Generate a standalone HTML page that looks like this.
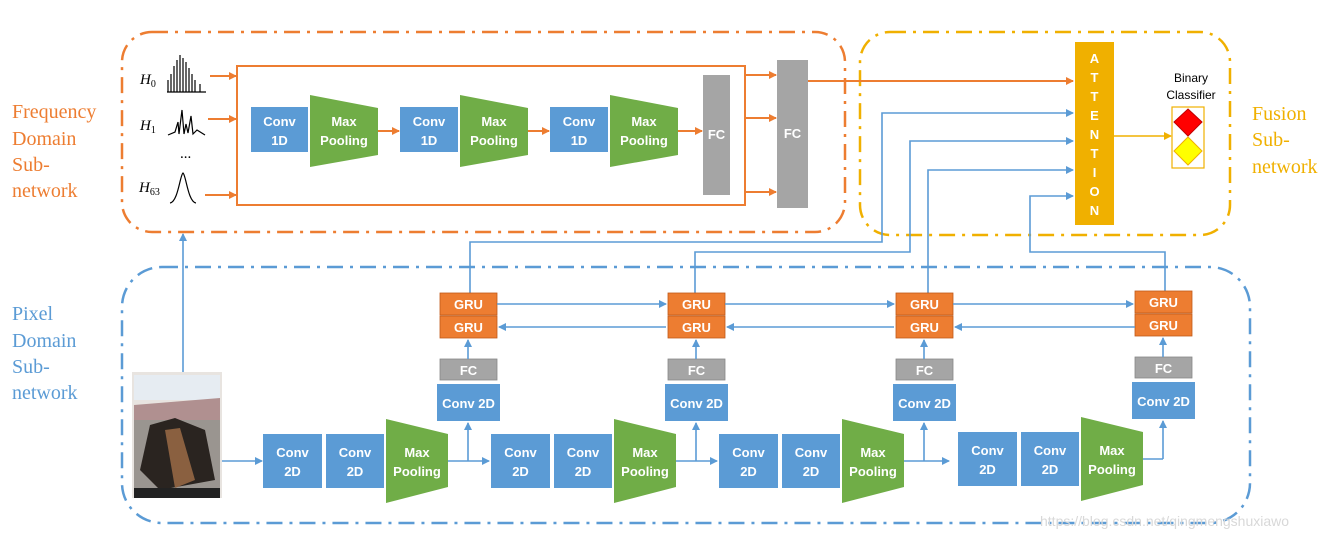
<!DOCTYPE html>
<html><head><meta charset="utf-8"><style>
html,body{margin:0;padding:0;background:#fff;}
svg{display:block;}
.w{font-family:"Liberation Sans",sans-serif;font-weight:bold;fill:#fff;font-size:13px;text-anchor:middle;}
.lbl{font-family:"Liberation Serif",serif;font-size:20px;}
</style></head><body>
<svg width="1335" height="539" viewBox="0 0 1335 539" xmlns="http://www.w3.org/2000/svg">
<defs>
<marker id="ab" markerWidth="8" markerHeight="8" refX="7" refY="4" orient="auto" markerUnits="userSpaceOnUse"><path d="M0,0 L8,4 L0,8 z" fill="#5b9bd5"/></marker>
<marker id="ao" markerWidth="8" markerHeight="8" refX="7" refY="4" orient="auto" markerUnits="userSpaceOnUse"><path d="M0,0 L8,4 L0,8 z" fill="#ed7d31"/></marker>
<marker id="ay" markerWidth="8" markerHeight="8" refX="7" refY="4" orient="auto" markerUnits="userSpaceOnUse"><path d="M0,0 L8,4 L0,8 z" fill="#f0b000"/></marker>
</defs>

<rect x="122" y="32" width="723" height="200" rx="30" fill="none" stroke="#ed7d31" stroke-width="2.5" stroke-dasharray="16,7,3,7"/>
<rect x="860" y="32" width="370" height="203" rx="30" fill="none" stroke="#f0b000" stroke-width="2.5" stroke-dasharray="16,7,3,7"/>
<rect x="122" y="267" width="1128" height="256" rx="40" fill="none" stroke="#5b9bd5" stroke-width="2.5" stroke-dasharray="16,7,3,7"/>

<text class="lbl" fill="#ed7d31" x="12" y="118">Frequency</text>
<text class="lbl" fill="#ed7d31" x="12" y="145">Domain</text>
<text class="lbl" fill="#ed7d31" x="12" y="171">Sub-</text>
<text class="lbl" fill="#ed7d31" x="12" y="197">network</text>
<text class="lbl" fill="#5b9bd5" x="12" y="320">Pixel</text>
<text class="lbl" fill="#5b9bd5" x="12" y="347">Domain</text>
<text class="lbl" fill="#5b9bd5" x="12" y="373">Sub-</text>
<text class="lbl" fill="#5b9bd5" x="12" y="399">network</text>
<text class="lbl" fill="#f0b000" x="1252" y="120">Fusion</text>
<text class="lbl" fill="#f0b000" x="1252" y="146">Sub-</text>
<text class="lbl" fill="#f0b000" x="1252" y="173">network</text>

<g font-family="Liberation Serif,serif" font-style="italic" font-size="15" fill="#000">
<text x="140" y="84">H<tspan font-size="10" dy="3" font-style="normal">0</tspan></text>
<text x="140" y="130">H<tspan font-size="10" dy="3" font-style="normal">1</tspan></text>
<text x="180" y="158" font-style="normal">...</text>
<text x="139" y="192">H<tspan font-size="10" dy="3" font-style="normal">63</tspan></text>
</g>
<path d="M168,92 L168,80 M171,92 L171,74 M174,92 L174,66 M177,92 L177,60 M180,92 L180,55 M183,92 L183,58 M186,92 L186,62 M189,92 L189,68 M192,92 L192,74 M195,92 L195,80 M200,92 L200,84 M167,92 L206,92" stroke="#000" stroke-width="1.2" fill="none"/>
<path d="M168,135 L175,132 L178,122 L179,134 L182,110 L184,134 L186,124 L188,133 L191,116 L193,134 L197,130 L205,135" stroke="#000" stroke-width="1.2" fill="none"/>
<path d="M170,203 C178,202 180,175 183,173 C186,175 188,202 196,203" stroke="#000" stroke-width="1.2" fill="none"/>

<rect x="237" y="66" width="508" height="139" fill="none" stroke="#ed7d31" stroke-width="2"/>
<g stroke="#ed7d31" stroke-width="2" marker-end="url(#ao)">
<line x1="210" y1="76" x2="236" y2="76"/>
<line x1="208" y1="119" x2="236" y2="119"/>
<line x1="205" y1="195" x2="236" y2="195"/>
<line x1="378" y1="131" x2="399" y2="131"/>
<line x1="528" y1="131" x2="549" y2="131"/>
<line x1="678" y1="131" x2="702" y2="131"/>
<line x1="745" y1="75" x2="776" y2="75"/>
<line x1="745" y1="118" x2="776" y2="118"/>
<line x1="745" y1="192" x2="776" y2="192"/>
<line x1="808" y1="81" x2="1073" y2="81"/>
</g>

<g>
<rect x="251" y="107" width="57" height="45" fill="#5b9bd5"/><text class="w" x="279.5" y="126">Conv</text><text class="w" x="279.5" y="145">1D</text>
<path d="M310,95 L378,108 L378,155 L310,167 z" fill="#70ad47"/><text class="w" x="344" y="126">Max</text><text class="w" x="344" y="145">Pooling</text>
<rect x="400" y="107" width="58" height="45" fill="#5b9bd5"/><text class="w" x="429" y="126">Conv</text><text class="w" x="429" y="145">1D</text>
<path d="M460,95 L528,108 L528,155 L460,167 z" fill="#70ad47"/><text class="w" x="494" y="126">Max</text><text class="w" x="494" y="145">Pooling</text>
<rect x="550" y="107" width="58" height="45" fill="#5b9bd5"/><text class="w" x="579" y="126">Conv</text><text class="w" x="579" y="145">1D</text>
<path d="M610,95 L678,108 L678,155 L610,167 z" fill="#70ad47"/><text class="w" x="644" y="126">Max</text><text class="w" x="644" y="145">Pooling</text>
<rect x="703" y="75" width="27" height="120" fill="#a5a5a5"/><text class="w" x="716.5" y="139" font-size="11">FC</text>
<rect x="777" y="60" width="31" height="148" fill="#a5a5a5"/><text class="w" x="792.5" y="138" font-size="11">FC</text>
</g>

<rect x="1075" y="42" width="39" height="183" fill="#f0b000"/>
<g class="w" font-size="12">
<text x="1094.5" y="63">A</text><text x="1094.5" y="82">T</text><text x="1094.5" y="101">T</text><text x="1094.5" y="120">E</text><text x="1094.5" y="139">N</text><text x="1094.5" y="158">T</text><text x="1094.5" y="177">I</text><text x="1094.5" y="196">O</text><text x="1094.5" y="215">N</text>
</g>
<line x1="1114" y1="136" x2="1171" y2="136" stroke="#f0b000" stroke-width="1.5" marker-end="url(#ay)"/>
<text x="1191" y="82" font-family="Liberation Sans,sans-serif" font-size="12" text-anchor="middle">Binary</text>
<text x="1191" y="99" font-family="Liberation Sans,sans-serif" font-size="12" text-anchor="middle">Classifier</text>
<rect x="1172" y="107" width="32" height="61" fill="none" stroke="#f0b000" stroke-width="1.2"/>
<path d="M1188,109 L1202,122 L1188,136 L1174,122 z" fill="#ff0000" stroke="#c00000"/>
<path d="M1188,137 L1202,151 L1188,165 L1174,151 z" fill="#ffff00" stroke="#f0b000"/>

<g stroke="#5b9bd5" stroke-width="1.6" fill="none">
<polyline points="470,293 470,242 882,242 882,113 1073,113" marker-end="url(#ab)"/>
<polyline points="695,293 695,252 910,252 910,141 1073,141" marker-end="url(#ab)"/>
<polyline points="928,293 928,170 1073,170" marker-end="url(#ab)"/>
<polyline points="1165,291 1165,252 1030,252 1030,196 1073,196" marker-end="url(#ab)"/>
<line x1="183" y1="372" x2="183" y2="234" marker-end="url(#ab)"/>
<line x1="222" y1="461" x2="262" y2="461" marker-end="url(#ab)"/>
</g>

<rect x="132" y="372" width="90" height="126" fill="#e8e4e0"/>
<rect x="134" y="375" width="86" height="25" fill="#e6ecf2"/>
<path d="M134,405 L220,398 L220,420 L134,420 z" fill="#b09090"/>
<path d="M134,420 L220,420 L220,490 L134,490 z" fill="#9a9590"/>
<path d="M150,425 L175,418 L205,430 L215,480 L160,490 L140,470 z" fill="#2a2420"/>
<path d="M165,430 L180,428 L195,480 L175,488 z" fill="#8a6040"/>
<rect x="134" y="488" width="86" height="10" fill="#222"/>

<g id="grp">
<rect x="263" y="434" width="59" height="54" fill="#5b9bd5"/><text class="w" x="292.5" y="457">Conv</text><text class="w" x="292.5" y="476">2D</text>
<rect x="326" y="434" width="58" height="54" fill="#5b9bd5"/><text class="w" x="355" y="457">Conv</text><text class="w" x="355" y="476">2D</text>
<path d="M386,419 L448,434 L448,487 L386,503 z" fill="#70ad47"/><text class="w" x="417" y="457">Max</text><text class="w" x="417" y="476">Pooling</text>
<rect x="437" y="384" width="63" height="37" fill="#5b9bd5"/><text class="w" x="468.5" y="408">Conv 2D</text>
<rect x="440" y="359" width="57" height="21" fill="#a5a5a5" stroke="#888" stroke-width="0.8"/><text class="w" x="468.5" y="375">FC</text>
<rect x="440" y="316" width="57" height="22" fill="#ed7d31" stroke="#c05a1a" stroke-width="0.8"/><text class="w" x="468.5" y="332">GRU</text>
<rect x="440" y="293" width="57" height="22" fill="#ed7d31" stroke="#c05a1a" stroke-width="0.8"/><text class="w" x="468.5" y="309">GRU</text>
<g stroke="#5b9bd5" stroke-width="1.6" fill="none">
<line x1="468" y1="359" x2="468" y2="340" marker-end="url(#ab)"/>
<line x1="468" y1="461" x2="468" y2="423" marker-end="url(#ab)"/>
</g>
</g>
<use href="#grp" transform="translate(228,0)"/>
<use href="#grp" transform="translate(456,0)"/>
<use href="#grp" transform="translate(695,-2)"/>
<g stroke="#5b9bd5" stroke-width="1.6" fill="none">
<line x1="448" y1="461" x2="489" y2="461" marker-end="url(#ab)"/>
<line x1="676" y1="461" x2="717" y2="461" marker-end="url(#ab)"/>
<line x1="904" y1="461" x2="949" y2="461" marker-end="url(#ab)"/>
<polyline points="1143,459 1163,459"/>
<line x1="497" y1="304" x2="666" y2="304" marker-end="url(#ab)"/>
<line x1="725" y1="304" x2="894" y2="304" marker-end="url(#ab)"/>
<line x1="953" y1="304" x2="1133" y2="304" marker-end="url(#ab)"/>
<line x1="1135" y1="327" x2="955" y2="327" marker-end="url(#ab)"/>
<line x1="894" y1="327" x2="727" y2="327" marker-end="url(#ab)"/>
<line x1="666" y1="327" x2="499" y2="327" marker-end="url(#ab)"/>
</g>

<text x="1040" y="526" font-family="Liberation Sans,sans-serif" font-size="14" fill="#d8d8d8">https://blog.csdn.net/qingmengshuxiawo</text>
</svg>
</body></html>
